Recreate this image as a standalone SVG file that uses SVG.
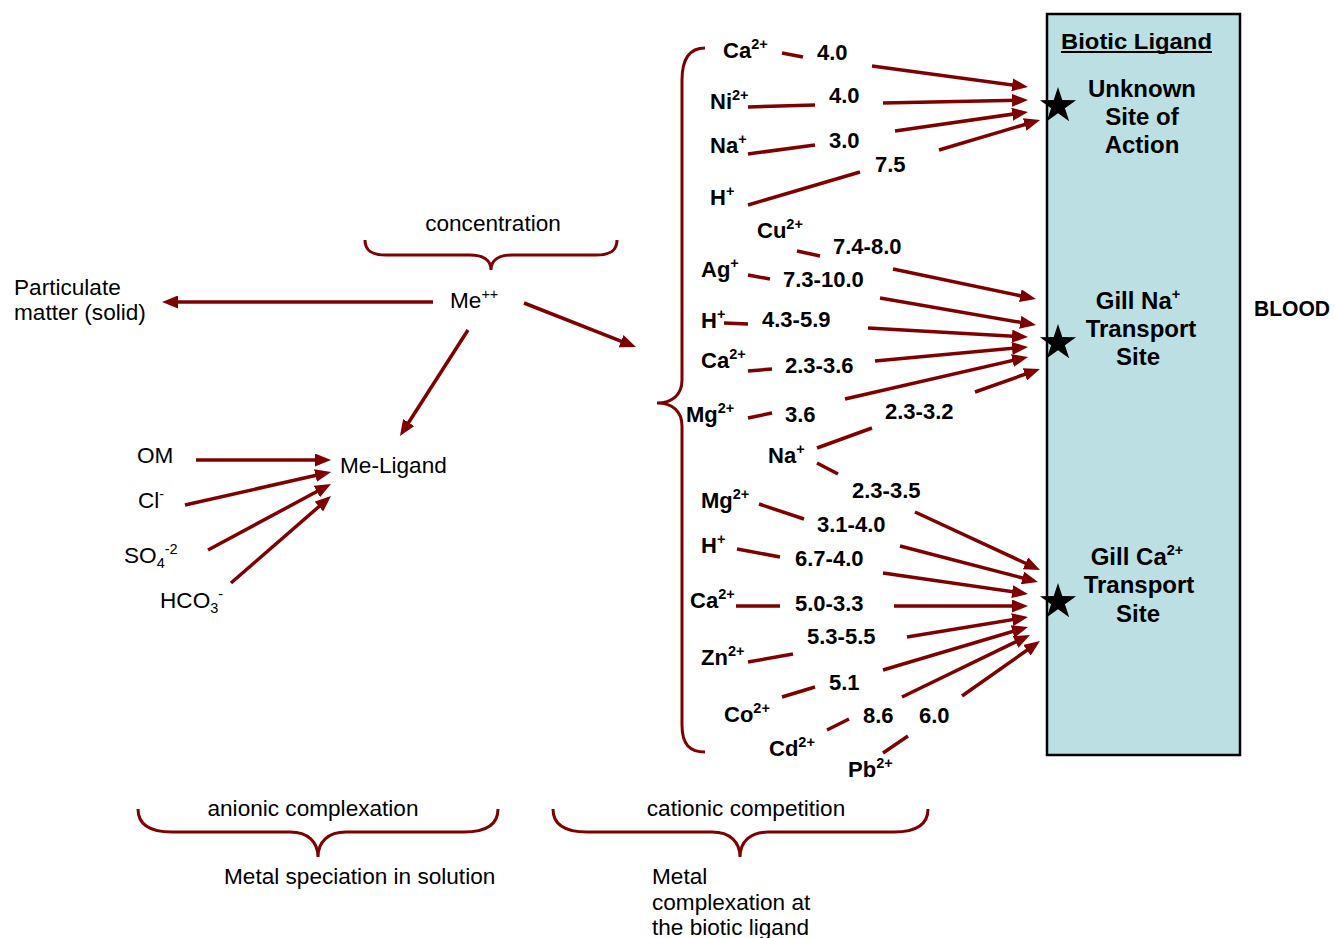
<svg xmlns="http://www.w3.org/2000/svg" width="1335" height="938" viewBox="0 0 1335 938">
<style>
.b{font-family:"Liberation Sans",Arial,sans-serif;font-weight:bold;font-size:22px;fill:#000}
.r{font-family:"Liberation Sans",Arial,sans-serif;font-size:22.6px;fill:#000}
.site{font-family:"Liberation Sans",Arial,sans-serif;font-weight:bold;font-size:24px;fill:#000;text-anchor:middle}
.sup{font-size:14.5px}
.con{fill:none;stroke:#7f0000;stroke-width:3.5;marker-end:url(#ah)}
.brace{fill:none;stroke:#7f0000;stroke-width:3}
</style>
<defs>
<marker id="ah" viewBox="0 0 16 13" refX="10" refY="6.5" markerWidth="16" markerHeight="13" markerUnits="userSpaceOnUse" orient="auto">
<path d="M0,0 L16,6.5 L0,13 z" fill="#7f0000"/>
</marker>
<polygon id="star" points="0,-19 4.29,-5.91 18.07,-5.87 6.94,2.26 11.17,15.37 0,7.3 -11.17,15.37 -6.94,2.26 -18.07,-5.87 -4.29,-5.91" fill="#000"/>
</defs>
<rect width="1335" height="938" fill="#fff"/>

<g id="biotic-ligand">
<rect x="1047" y="14" width="193" height="741" fill="#bbdfe3" stroke="#000" stroke-width="2.5"/>
<text class="b" x="1061" y="49" font-size="21" textLength="151" lengthAdjust="spacingAndGlyphs">Biotic Ligand</text>
<line x1="1061" y1="52" x2="1212" y2="52" stroke="#000" stroke-width="1.8"/>
</g>
<g id="site-unknown">
<use href="#star" x="1058" y="106"/>
<text class="site" x="1142" y="97">Unknown</text>
<text class="site" x="1142" y="125">Site of</text>
<text class="site" x="1142" y="153">Action</text>
</g>
<g id="site-na">
<use href="#star" x="1058" y="343"/>
<text class="site" x="1138" y="309">Gill Na<tspan class="sup" font-size="15" dy="-10">+</tspan></text>
<text class="site" x="1141" y="337">Transport</text>
<text class="site" x="1138" y="365">Site</text>
</g>
<g id="site-ca">
<use href="#star" x="1058" y="602"/>
<text class="site" x="1137" y="565">Gill Ca<tspan class="sup" font-size="15" dy="-10">2+</tspan></text>
<text class="site" x="1139" y="593">Transport</text>
<text class="site" x="1138" y="622">Site</text>
</g>
<g id="blood">
<text class="b" x="1254" y="316" font-size="20" textLength="76" lengthAdjust="spacingAndGlyphs">BLOOD</text>
</g>

<g id="me"><text class="r" x="450" y="308">Me<tspan class="sup" dy="-9">++</tspan></text></g>
<g id="particulate"><text class="r" x="14" y="295">Particulate</text><text class="r" x="14" y="320">matter (solid)</text></g>
<g id="me-ligand"><text class="r" x="340" y="473">Me-Ligand</text></g>
<g id="om"><text class="r" x="137" y="463">OM</text></g>
<g id="cl"><text class="r" x="138" y="508">Cl<tspan class="sup" dy="-9">-</tspan></text></g>
<g id="so4"><text class="r" x="124" y="563">SO<tspan class="sup" dy="5">4</tspan><tspan class="sup" dy="-14">-2</tspan></text></g>
<g id="hco3"><text class="r" x="160" y="608">HCO<tspan class="sup" dy="5">3</tspan><tspan class="sup" dy="-14">-</tspan></text></g>
<g id="concentration"><text class="r" x="493" y="231" text-anchor="middle">concentration</text>
<path class="brace" d="M365,240 C365,251 372,255 386,255 L470,255 C483,255 491,260 491,270 C491,260 499,255 512,255 L596,255 C610,255 617,251 617,240"/></g>
<g id="anionic"><text class="r" x="313" y="816" text-anchor="middle">anionic complexation</text>
<path class="brace" d="M138,809 C138,825 150,832 172,832 L290,832 C308,832 318,842 318,857 C318,842 328,832 346,832 L464,832 C486,832 498,825 498,809"/></g>
<g id="cationic"><text class="r" x="746" y="816" text-anchor="middle">cationic competition</text>
<path class="brace" d="M553,809 C553,825 565,832 587,832 L712,832 C730,832 740,842 740,857 C740,842 750,832 768,832 L894,832 C916,832 928,825 928,809"/></g>
<g id="speciation"><text class="r" x="224" y="884">Metal speciation in solution</text></g>
<g id="complexation"><text class="r" x="652" y="884">Metal</text><text class="r" x="652" y="910">complexation at</text><text class="r" x="652" y="935">the biotic ligand</text></g>
<g id="cation-brace"><path class="brace" d="M705,48 C690,48 682,58 682,80 L682,380 C682,395 672,403 657,403 C672,403 682,411 682,426 L682,725 C682,745 690,752 705,752"/></g>

<g id="ions">
<text class="b" x="723" y="58">Ca<tspan class="sup" dy="-9">2+</tspan></text>
<text class="b" x="710" y="109">Ni<tspan class="sup" dy="-9">2+</tspan></text>
<text class="b" x="710" y="153">Na<tspan class="sup" dy="-9">+</tspan></text>
<text class="b" x="710" y="205">H<tspan class="sup" dy="-9">+</tspan></text>
<text class="b" x="757" y="238">Cu<tspan class="sup" dy="-9">2+</tspan></text>
<text class="b" x="701" y="277">Ag<tspan class="sup" dy="-9">+</tspan></text>
<text class="b" x="701" y="328">H<tspan class="sup" dy="-9">+</tspan></text>
<text class="b" x="701" y="368">Ca<tspan class="sup" dy="-9">2+</tspan></text>
<text class="b" x="686" y="422">Mg<tspan class="sup" dy="-9">2+</tspan></text>
<text class="b" x="768" y="463">Na<tspan class="sup" dy="-9">+</tspan></text>
<text class="b" x="701" y="508">Mg<tspan class="sup" dy="-9">2+</tspan></text>
<text class="b" x="701" y="553">H<tspan class="sup" dy="-9">+</tspan></text>
<text class="b" x="690" y="608">Ca<tspan class="sup" dy="-9">2+</tspan></text>
<text class="b" x="701" y="665">Zn<tspan class="sup" dy="-9">2+</tspan></text>
<text class="b" x="724" y="722">Co<tspan class="sup" dy="-9">2+</tspan></text>
<text class="b" x="769" y="756">Cd<tspan class="sup" dy="-9">2+</tspan></text>
<text class="b" x="848" y="777">Pb<tspan class="sup" dy="-9">2+</tspan></text>
</g>

<g id="constants">
<text class="b" x="817" y="60">4.0</text>
<text class="b" x="829" y="103">4.0</text>
<text class="b" x="829" y="148">3.0</text>
<text class="b" x="875" y="172">7.5</text>
<text class="b" x="833" y="254">7.4-8.0</text>
<text class="b" x="783" y="287">7.3-10.0</text>
<text class="b" x="762" y="327">4.3-5.9</text>
<text class="b" x="785" y="373">2.3-3.6</text>
<text class="b" x="785" y="422">3.6</text>
<text class="b" x="885" y="419">2.3-3.2</text>
<text class="b" x="852" y="498">2.3-3.5</text>
<text class="b" x="817" y="532">3.1-4.0</text>
<text class="b" x="795" y="566">6.7-4.0</text>
<text class="b" x="795" y="611">5.0-3.3</text>
<text class="b" x="807" y="644">5.3-5.5</text>
<text class="b" x="829" y="690">5.1</text>
<text class="b" x="863" y="723">8.6</text>
<text class="b" x="919" y="723">6.0</text>
</g>

<g id="connectors">
<path class="con" d="M433,302 L168,302"/>
<path class="con" d="M524,303 L630.4,344.8"/>
<path class="con" d="M468,330 L403.2,431"/>
<path class="con" d="M196,460 L325,460"/>
<path class="con" d="M185,505 L325.2,473.3"/>
<path class="con" d="M208,550 L325.7,486.8"/>
<path class="con" d="M231,583 L326.5,500"/>

<path class="con" d="M782,53 L803,57 M872,66 L1022.1,86.2"/>
<path class="con" d="M748,107 L815,105 M883,103 L1022,100.1"/>
<path class="con" d="M748,154 L815,145 M895,131 L1022.1,112.8"/>
<path class="con" d="M748,205 L860,172 M939,150 L1034.3,121.7"/>

<path class="con" d="M797,251 L820,256 M893,269 L1030.1,297.8"/>
<path class="con" d="M748,275 L770,279 M880,298 L1030.1,324"/>
<path class="con" d="M724,323 L748,324 M868,328 L1022,336.7"/>
<path class="con" d="M748,371 L772,369 M875,361 L1022,347.5"/>
<path class="con" d="M748,418 L772,413 M845,399 L1022.2,358.3"/>
<path class="con" d="M817,448 L872,428 M975,392 L1034.3,371"/>

<path class="con" d="M817,463 L838,474 M915,512 L1034.6,567.5"/>
<path class="con" d="M759,504 L804,519 M900,546 L1032.2,580.5"/>
<path class="con" d="M737,549 L780,557 M883,573 L1022.1,593.1"/>
<path class="con" d="M736,606 L780,606 M894,606 L1022,606"/>
<path class="con" d="M748,662 L793,654 M907,637 L1022.1,618"/>
<path class="con" d="M782,697 L815,687 M883,670 L1022.2,628.7"/>
<path class="con" d="M827,730 L849,719 M902,697 L1024.6,637.6"/>
<path class="con" d="M883,753 L908,736 M962,696 L1035.1,644.5"/>
</g>
</svg>
